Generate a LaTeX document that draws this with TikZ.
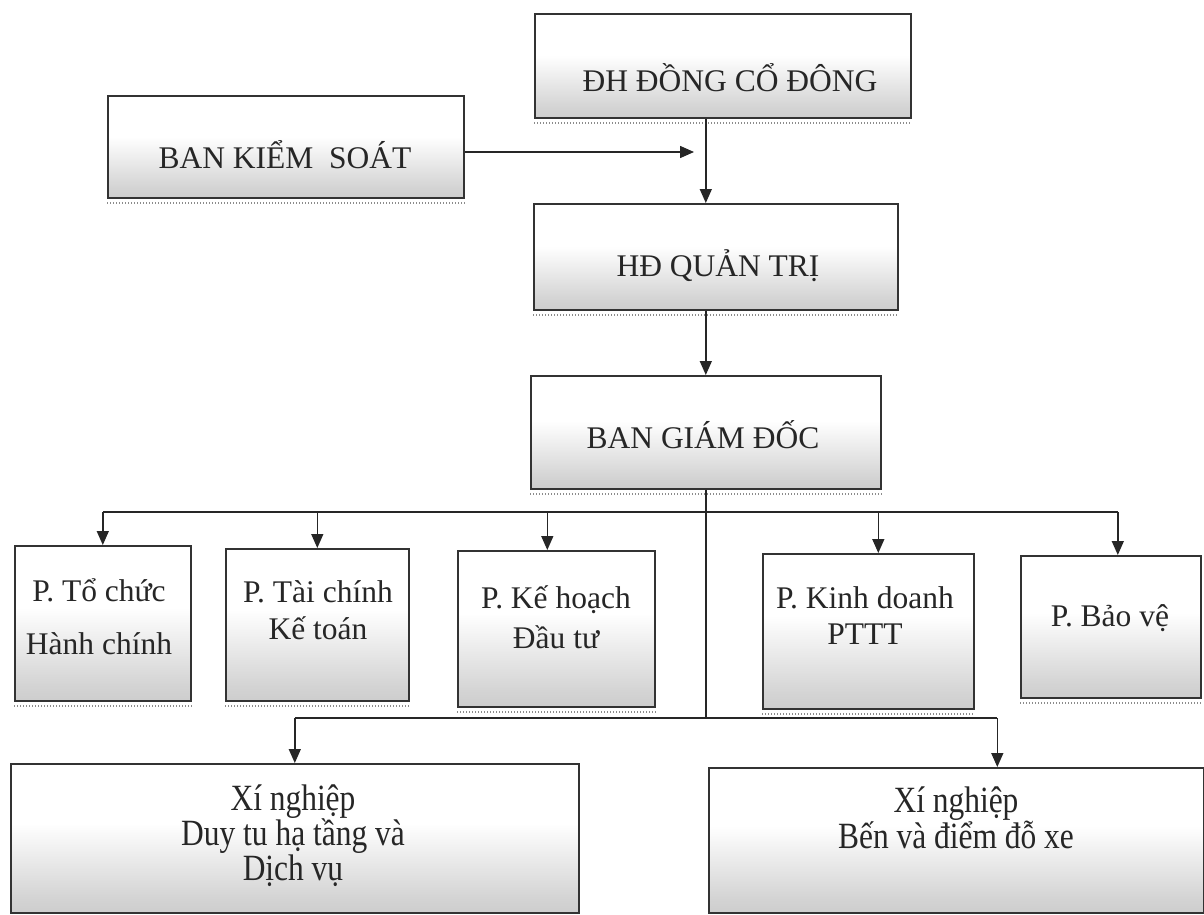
\documentclass[tikz,border=0pt]{standalone}
\usepackage{fontspec}
\setmainfont{Liberation Serif}
\newfontfamily\tallserif[FakeStretch=0.85]{Liberation Serif}
\usetikzlibrary{arrows.meta}
\pgfdeclareverticalshading{boxshade}{100bp}{color(0bp)=(black!32); color(30bp)=(black!17); color(55bp)=(white); color(100bp)=(white)}
\tikzset{
  box/.style={draw=black!80, line width=1.6pt, shading=boxshade, anchor=north west, inner sep=0pt},
  lbl/.style={align=center, text=black!85, inner sep=0pt},
  caps/.style={lbl, font=\fontsize{31.5}{36}\selectfont},
  conn/.style={draw=black!85, line width=1.4pt},
  arr/.style={conn, -{Triangle[length=14pt,width=12pt]}},
  shadowline/.style={draw=black!45, line width=2pt, dash pattern=on 1.2pt off 1.8pt}
}
\begin{document}
\begin{tikzpicture}[x=1pt,y=-1pt]
\useasboundingbox[fill=white] (0,0) rectangle (1204,915);
% boxes
\node[box, minimum width=376pt, minimum height=104pt] (dh) at (534,13) {};
\node[box, minimum width=356pt, minimum height=102pt] (bks) at (107,95) {};
\node[box, minimum width=364pt, minimum height=106pt] (hdqt) at (533,203) {};
\node[box, minimum width=350pt, minimum height=113pt] (bgd) at (530,375) {};
\node[box, minimum width=176pt, minimum height=155pt] (p1) at (14,545) {};
\node[box, minimum width=183pt, minimum height=152pt] (p2) at (225,548) {};
\node[box, minimum width=197pt, minimum height=156pt] (p3) at (457,550) {};
\node[box, minimum width=211pt, minimum height=155pt] (p4) at (762,553) {};
\node[box, minimum width=180pt, minimum height=142pt] (p5) at (1020,555) {};
\node[box, minimum width=568pt, minimum height=149pt] (x1) at (10,763) {};
\node[box, minimum width=495pt, minimum height=145pt] (x2) at (708,767) {};
% dotted shadow lines under the boxes
\foreach \n in {dh,bks,hdqt,bgd,p1,p2,p3,p4,p5,x1,x2}{
  \draw[shadowline] ([yshift=-4pt]\n.south west) -- ([yshift=-4pt]\n.south east);
}
% labels
\node[caps] (dh-t) at (730,78) {ĐH ĐỒNG CỔ ĐÔNG};
\node[caps] (bks-t) at (285,155) {BAN KIỂM\ \ SOÁT};
\node[caps] (hdqt-t) at (718,266) {HĐ QUẢN TRỊ};
\node[caps] (bgd-t) at (703,435) {BAN GIÁM ĐỐC};
\node[lbl, font=\fontsize{31.5}{53}\selectfont] (p1-t) at (99,617) {P. Tổ chức\\Hành chính};
\node[lbl, font=\fontsize{31.5}{37}\selectfont] (p2-t) at (318,610) {P. Tài chính\\Kế toán};
\node[lbl, font=\fontsize{31.5}{40}\selectfont] (p3-t) at (556,617) {P. Kế hoạch\\Đầu tư};
\node[lbl, font=\fontsize{31.5}{36}\selectfont] (p4-t) at (865,616) {P. Kinh doanh\\PTTT};
\node[lbl, font=\fontsize{31.5}{37}\selectfont] (p5-t) at (1110,618) {P. Bảo vệ};
\node[lbl, font=\tallserif\fontsize{37}{35}\selectfont] (x1-t) at (293,836) {Xí nghiệp\\Duy tu hạ tầng và\\Dịch vụ};
\node[lbl, font=\tallserif\fontsize{37}{34}\selectfont] (x2-t) at (956,818) {Xí nghiệp\\Bến và điểm đỗ xe};
% connectors
\coordinate (kin) at (694,152);
\coordinate (bus) at (0,512);
\coordinate (bus2) at (0,718);
\draw[arr] (bks.east |- kin) -- (kin);
\draw[arr] (dh.south -| bgd.north) -- (hdqt.north -| bgd.north);
\draw[arr] (hdqt.south -| bgd.north) -- (bgd.north);
\draw[conn] (bgd.south) -- (bgd.south |- bus2);
\draw[conn] (p1.north |- bus) -- ([xshift=7pt]p5.north |- bus);
\draw[arr] (p1.north |- bus) -- (p1.north);
\draw[arr] (p2.north |- bus) -- (p2.north);
\draw[arr] ([xshift=-9pt]p3.north |- bus) -- ([xshift=-9pt]p3.north);
\draw[arr] ([xshift=10pt]p4.north |- bus) -- ([xshift=10pt]p4.north);
\draw[arr] ([xshift=7pt]p5.north |- bus) -- ([xshift=7pt]p5.north);
\draw[conn] (x1.north |- bus2) -- ([xshift=41pt]x2.north |- bus2);
\draw[arr] (x1.north |- bus2) -- (x1.north);
\draw[arr] ([xshift=41pt]x2.north |- bus2) -- ([xshift=41pt]x2.north);
\end{tikzpicture}
\end{document}
